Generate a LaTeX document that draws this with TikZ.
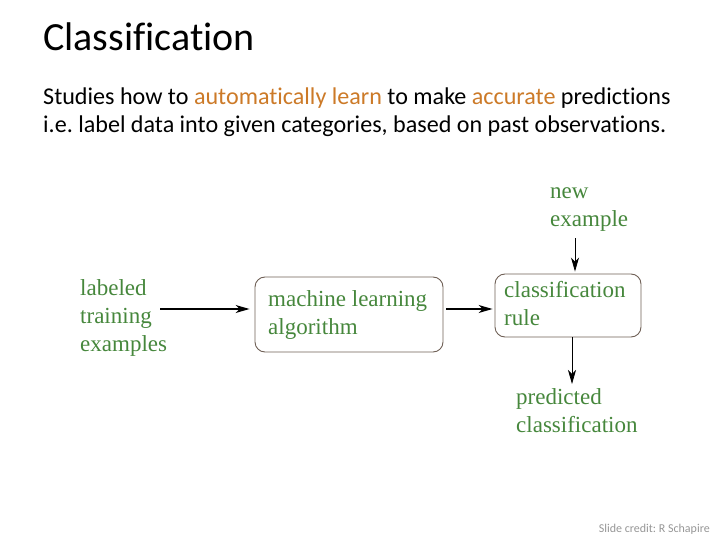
\documentclass[tikz,border=0pt]{standalone}
\usepackage{fontspec}
\setmainfont[Ligatures={NoCommon}]{Carlito}
\newfontfamily\diagfont{Liberation Serif}
\usetikzlibrary{arrows.meta}
\definecolor{dgreen}{RGB}{70,135,60}
\definecolor{boxline}{RGB}{110,95,85}
\definecolor{hl}{RGB}{204,122,40}
\definecolor{credit}{RGB}{150,150,150}
\frenchspacing
\tikzset{
  x=1pt, y=-1pt,
  lbl/.style={font=\diagfont\fontsize{23}{28}\selectfont, text=dgreen, align=left, inner sep=0pt, anchor=base west},
  rbox/.style={draw=boxline, line width=0.9pt, rounded corners=10pt, inner sep=0pt},
  arr/.style={-{Stealth[length=14pt,width=8pt,inset=4pt]}, line width=1.3pt, black},
  varr/.style={arr, line width=0.8pt},
}
\begin{document}
\begin{tikzpicture}
\useasboundingbox (0,0) rectangle (720,540);
\node[anchor=base west, inner sep=0pt, font=\fontsize{40}{48}\selectfont] (title) at (43,51) {Classification};
\node[anchor=base west, inner sep=0pt, font=\fontsize{24.1}{28}\selectfont\frenchspacing, align=left] (body) at (43,133)
  {Studies how to \textcolor{hl}{automatically learn} to make \textcolor{hl}{accurate} predictions\\
   i.e.\ label data into given categories, based on past observations.};
% boxes
\node[rbox, minimum width=188pt, minimum height=75pt] (mla) at (349,314.5) {};
\node[rbox, minimum width=146pt, minimum height=63pt] (rule) at (568,305.5) {};
% labels (anchor = baseline of last line)
\node[lbl] (lte) at (80,351) {labeled\\training\\examples};
\node[lbl] (mlat) at (268,334) {machine learning\\algorithm};
\node[lbl] (rulet) at (504,325) {classification\\rule};
\node[lbl] (newex) at (550,226) {new\\example};
\node[lbl] (pred) at (516,432) {predicted\\classification};
% connectors
\coordinate (a1s) at (160,309);
\coordinate (a3s) at (575,238);
\coordinate (a4e) at (572,384);
\draw[arr, shorten >=5pt] (a1s) -- (a1s -| mla.west);
\draw[arr, shorten <=3pt, shorten >=2pt] (mla.east |- a1s) -- (a1s -| rule.west);
\draw[varr, shorten >=2pt] (a3s) -- (a3s |- rule.north);
\draw[varr] (a4e |- rule.south) -- (a4e);
\node[anchor=base east, inner sep=0pt, font=\fontsize{12}{14}\selectfont, text=credit] (cred) at (710,532) {Slide credit: R Schapire};
\end{tikzpicture}
\end{document}
